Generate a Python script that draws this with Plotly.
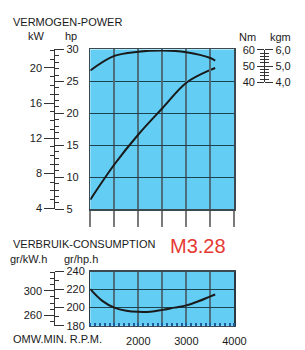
import plotly.graph_objects as go

# ---------------- data ----------------
rpm = [1000, 1500, 2000, 2500, 3000, 3500, 3600]
power_hp = [6.5, 12.0, 16.7, 20.8, 24.8, 26.8, 27.1]
torque_nm = [47.3, 56.3, 58.9, 59.7, 58.6, 55.0, 53.4]

rpm_cons = [1000, 1250, 1500, 1750, 2000, 2250, 2500, 2750, 3000, 3250, 3500, 3600]
cons_g_hph = [220.5, 207.5, 200.0, 196.5, 195.3, 195.5, 197.5, 200.0, 202.5, 207.0, 212.5, 214.5]

rpm_grid = [1000, 1500, 2000, 2500, 3000, 3500, 4000]
rpm_labels = ["", "", "2000", "", "3000", "", "4000"]
kgm_vals = [4, 5, 6]
kgm_labels = ["4,0", "5,0", "6,0"]
kwh_vals = [260, 300]

# ---------------- style ----------------
W, H = 305, 350
FONT = "Liberation Sans, Arial, sans-serif"
BG = "#63cdf4"
HGRID = "#1f4250"
VGRID = "#4d6e7b"
TXT = "#1a1a1a"


def px_x(x):
    return x / W


def px_y(y):
    return 1 - y / H


xdom = [px_x(94), px_x(244)]
top_dom = [px_y(210.5), px_y(45)]
trq_dom = [px_y(79), px_y(45.5)]
bot_dom = [px_y(331), px_y(275)]
left_pos = px_x(56.5)
right_pos = px_x(275)

tickfont = dict(family=FONT, size=11, color=TXT)

fig = go.Figure()
fig.add_trace(go.Scatter(x=rpm, y=power_hp, mode="lines", line=dict(color=TXT, width=2, shape="spline"),
                         xaxis="x", yaxis="y", hoverinfo="skip"))
fig.add_trace(go.Scatter(x=rpm, y=torque_nm, mode="lines", line=dict(color=TXT, width=2, shape="spline"),
                         xaxis="x", yaxis="y4", hoverinfo="skip"))
fig.add_trace(go.Scatter(x=rpm_cons, y=cons_g_hph, mode="lines", line=dict(color=TXT, width=2, shape="spline"),
                         xaxis="x2", yaxis="y7", hoverinfo="skip"))

# empty placeholder traces so that every scale axis gets drawn
for xa, ya in [("x", "y2"), ("x", "y3"), ("x", "y5"), ("x", "y6"), ("x2", "y8"), ("x2", "y9")]:
    fig.add_trace(go.Scatter(x=[None], y=[None], mode="lines", xaxis=xa, yaxis=ya,
                             hoverinfo="skip", showlegend=False))

scale_y = dict(tickfont=tickfont, tickcolor="#333", ticks="outside", showline=True,
               linecolor="#333", linewidth=1, zeroline=False, fixedrange=True,
               ticklabeloverflow="allow", showgrid=False, anchor="free")


def minor(d):
    return dict(dtick=d, tick0=0, ticks="outside", ticklen=4, tickcolor="#333", showgrid=False)


base_y = dict(showticklabels=False, ticks="", zeroline=False, fixedrange=True)

fig.update_layout(
    width=W, height=H,
    margin=dict(l=0, r=0, t=0, b=0),
    paper_bgcolor="white", plot_bgcolor="rgba(0,0,0,0)",
    showlegend=False,
    font=dict(family=FONT, size=11, color=TXT),
    # ---- top panel ----
    xaxis=dict(domain=xdom, range=[1000, 4000], anchor="y", tickmode="array", tickvals=rpm_grid,
               showticklabels=False, ticks="outside", ticklen=16, tickwidth=2, tickcolor="#7a7a7a",
               showgrid=True, gridcolor=VGRID, gridwidth=2, showline=True, mirror=True,
               linecolor="#3a4a50", linewidth=1.5, zeroline=False, fixedrange=True),
    yaxis=dict(domain=top_dom, range=[5, 30], anchor="x", dtick=5, tick0=0,
               showgrid=True, gridcolor=HGRID, gridwidth=1.5,
               showline=True, mirror=True, linecolor="#3a4a50", linewidth=1.5, **base_y),
    yaxis2=dict(overlaying="y", range=[5, 30], position=left_pos, side="right",
                dtick=5, tick0=0, ticklen=9, minor=minor(1), **scale_y),
    yaxis3=dict(overlaying="y", range=[3.9, 22.1], position=left_pos, side="left",
                dtick=4, tick0=0, ticklen=10, minor=minor(1), **scale_y),
    # ---- torque scale (upper part of top panel) ----
    yaxis4=dict(domain=trq_dom, range=[40, 60], anchor="x", showgrid=False, showline=False, **base_y),
    yaxis5=dict(overlaying="y4", range=[40, 60], position=right_pos, side="left",
                dtick=10, tick0=0, ticklen=7, minor=minor(2), **scale_y),
    yaxis6=dict(overlaying="y4", range=[4, 6], position=right_pos, side="right",
                tickmode="array", tickvals=kgm_vals, ticktext=kgm_labels, ticklen=8,
                minor=minor(0.2), **scale_y),
    # ---- bottom panel ----
    xaxis2=dict(domain=xdom, range=[1000, 4000], anchor="y7", tickmode="array", tickvals=rpm_grid,
                ticktext=rpm_labels, tickfont=tickfont, ticks="", ticklabelstandoff=5,
                showgrid=True, gridcolor=VGRID,
                gridwidth=2, showline=True, mirror=True, linecolor="#3a4a50", linewidth=1.5,
                minor=dict(dtick=100, tick0=0, ticks="inside", ticklen=3, tickwidth=2,
                           tickcolor="#1d5c9c", showgrid=False),
                zeroline=False, fixedrange=True),
    yaxis7=dict(domain=bot_dom, range=[180, 240], anchor="x2", dtick=20, tick0=0,
                showgrid=True, gridcolor=HGRID, gridwidth=1.5,
                showline=True, mirror=True, linecolor="#2a3a40", linewidth=1.5, **base_y),
    yaxis8=dict(overlaying="y7", range=[180, 240], position=left_pos, side="right",
                dtick=20, tick0=0, ticklen=9, minor=minor(10), **scale_y),
    yaxis9=dict(overlaying="y7", range=[243.1, 331.6], position=left_pos, side="left",
                tickmode="array", tickvals=kwh_vals, ticklen=10, minor=minor(10), **scale_y),
)

# blue plot-area backgrounds (below gridlines)
fig.add_shape(type="rect", xref="x domain", yref="y domain", x0=0, x1=1, y0=0, y1=1,
              fillcolor=BG, line=dict(width=0), layer="below")
fig.add_shape(type="rect", xref="x2 domain", yref="y7 domain", x0=0, x1=1, y0=0, y1=1,
              fillcolor=BG, line=dict(width=0), layer="below")


def label(text, x, y, anchor="left", size=11, color=TXT):
    fig.add_annotation(text=text, x=px_x(x), y=px_y(y), xref="paper", yref="paper",
                       xanchor=anchor, yanchor="middle", showarrow=False,
                       font=dict(family=FONT, size=size, color=color))


label("VERMOGEN-POWER", 11, 16.5)
label("kW", 37.5, 31, "center")
label("hp", 73.5, 31, "center")
label("Nm", 258, 32.5, "center")
label("kgm", 292, 32.5, "center")
label("VERBRUIK-CONSUMPTION", 11, 246.5)
label("gr/kW.h", 30, 262, "center")
label("gr/hp.h", 84, 262, "center")
label("M3.28", 175, 248.5, "left", size=20, color="#e53a33")
label("OMW.MIN. R.P.M.", 11, 344.5)

fig.write_html(
    "out.html",
    config={"displayModeBar": False, "staticPlot": True},
    post_script="document.body.style.margin='0';document.body.style.overflow='hidden';",
)
